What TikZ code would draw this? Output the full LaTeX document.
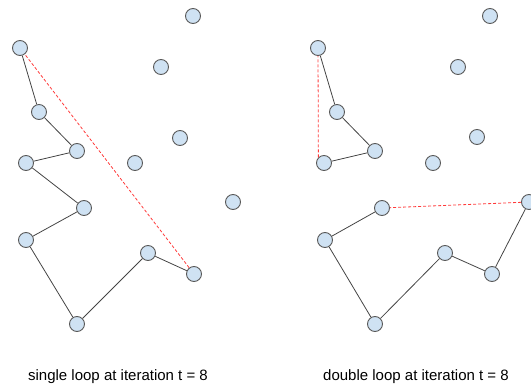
\documentclass[tikz,border=0pt]{standalone}
\usepackage{fontspec}
\setmainfont{Liberation Sans}
\definecolor{ptfill}{HTML}{CFE2F3}
\definecolor{ptline}{HTML}{595959}
\definecolor{tourline}{HTML}{444444}
\definecolor{gapline}{HTML}{FF3B3B}
\tikzset{
  pt/.style={circle, minimum size=15pt, inner sep=0pt, fill=ptfill, draw=ptline, line width=0.9pt},
  tour/.style={draw=tourline, line width=0.8pt},
  gap/.style={draw=gapline, line width=0.8pt, dash pattern=on 3pt off 2pt},
  caption/.style={font=\fontsize{15pt}{18pt}\selectfont, inner sep=0pt}
}
\begin{document}
\begin{tikzpicture}[x=1pt,y=-1pt]
\useasboundingbox (0,0) rectangle (531,385);

% single loop
\node[pt] (s1) at (20,48) {};
\node[pt] (s2) at (39,112) {};
\node[pt] (s3) at (77,151) {};
\node[pt] (s4) at (26,163) {};
\node[pt] (s5) at (84,208) {};
\node[pt] (s6) at (26,240) {};
\node[pt] (s7) at (77,324) {};
\node[pt] (s8) at (148,253) {};
\node[pt] (s9) at (194,274) {};
\node[pt] (s10) at (193,16) {};
\node[pt] (s11) at (161,67) {};
\node[pt] (s12) at (180,138) {};
\node[pt] (s13) at (135,163) {};
\node[pt] (s14) at (233,202) {};

\draw[tour] (s1) -- (s2) -- (s3) -- (s4) -- (s5) -- (s6) -- (s7) -- (s8) -- (s9);
\draw[gap] (s9) -- (s1);

\node[caption] (capS) at (118,377) {single loop at iteration t = 8};

% double loop
\node[pt] (d1) at (318,48) {};
\node[pt] (d2) at (337,112) {};
\node[pt] (d3) at (375,151) {};
\node[pt] (d4) at (324,163) {};
\node[pt] (d5) at (382,208) {};
\node[pt] (d6) at (325,240) {};
\node[pt] (d7) at (375,324) {};
\node[pt] (d8) at (445,253) {};
\node[pt] (d9) at (492,274) {};
\node[pt] (d10) at (490,16) {};
\node[pt] (d11) at (458,67) {};
\node[pt] (d12) at (477,137) {};
\node[pt] (d13) at (433,163) {};
\node[pt] (d14) at (529,202) {};

\draw[tour] (d1) -- (d2) -- (d3) -- (d4);
\draw[gap] (d4.north west) -- (d1);
\draw[tour] (d5) -- (d6) -- (d7) -- (d8) -- (d9) -- (d14);
\draw[gap] (d14) -- (d5);

\node[caption] (capD) at (416,377) {double loop at iteration t = 8};

\end{tikzpicture}
\end{document}
